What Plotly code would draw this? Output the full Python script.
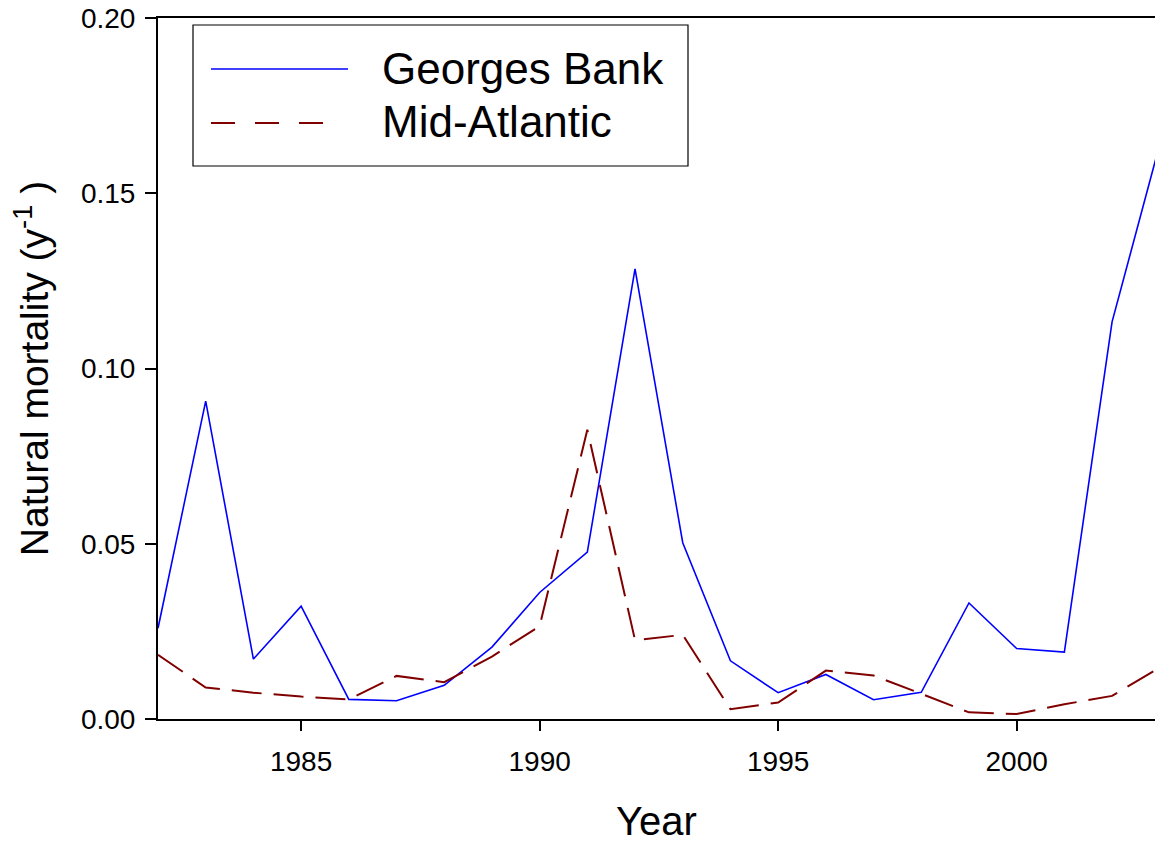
import plotly.graph_objects as go

# Annual natural mortality estimates by region
years = list(range(1982, 2004))
georges_bank = [0.0259, 0.0907, 0.0171, 0.0322, 0.0056, 0.0052, 0.0096, 0.0205,
                0.0361, 0.0476, 0.1284, 0.0503, 0.0166, 0.0075, 0.0127, 0.0055,
                0.0076, 0.0331, 0.0201, 0.0191, 0.1133, 0.1640]
mid_atlantic = [0.0183, 0.0090, 0.0075, 0.0064, 0.0056, 0.0123, 0.0105, 0.0178,
                0.0265, 0.0825, 0.0225, 0.0240, 0.0028, 0.0047, 0.0138, 0.0124,
                0.0072, 0.0019, 0.0014, 0.0042, 0.0066, 0.0147]

x_ticks = [1985, 1990, 1995, 2000]
y_ticks = [0.00, 0.05, 0.10, 0.15, 0.20]

FONT = "Liberation Sans, Arial, sans-serif"
GB_COLOR = "#0000ff"
MA_COLOR = "#800000"

fig = go.Figure()
fig.add_trace(go.Scatter(x=years, y=georges_bank, mode="lines", name="Georges Bank",
                         line=dict(color=GB_COLOR, width=1.6)))
fig.add_trace(go.Scatter(x=years, y=mid_atlantic, mode="lines", name="Mid-Atlantic",
                         line=dict(color=MA_COLOR, width=2, dash="30px,12px")))

W, H = 1155, 843
ML, MR, MT, MB = 158, 0, 18, 124
PW, PH = W - ML - MR, H - MT - MB


def fx(p):
    """Pixel column -> x paper fraction."""
    return (p - ML) / PW


def fy(p):
    """Pixel row -> y paper fraction."""
    return (H - MB - p) / PH


# Boxed legend drawn in the upper-left corner
shapes = [
    dict(type="rect", xref="paper", yref="paper",
         x0=fx(193), x1=fx(688), y0=fy(166), y1=fy(25),
         line=dict(color="black", width=1.2), fillcolor="white", layer="above"),
    dict(type="line", xref="paper", yref="paper",
         x0=fx(211), x1=fx(348), y0=fy(69), y1=fy(69),
         line=dict(color=GB_COLOR, width=1.6), layer="above"),
    dict(type="line", xref="paper", yref="paper",
         x0=fx(211), x1=fx(335), y0=fy(123), y1=fy(123),
         line=dict(color=MA_COLOR, width=2, dash="24px,20px"), layer="above"),
]

annotations = [
    dict(text="Georges Bank", xref="paper", yref="paper",
         x=fx(380), y=fy(68), xanchor="left", yanchor="middle", showarrow=False,
         font=dict(family=FONT, size=44, color="black")),
    dict(text="Mid-Atlantic", xref="paper", yref="paper",
         x=fx(380), y=fy(122), xanchor="left", yanchor="middle", showarrow=False,
         font=dict(family=FONT, size=44, color="black")),
]

fig.update_layout(
    width=W, height=H,
    margin=dict(l=ML, r=MR, t=MT, b=MB, pad=0),
    paper_bgcolor="white", plot_bgcolor="white",
    showlegend=False,
    font=dict(family=FONT, color="black"),
    shapes=shapes,
    annotations=annotations,
    xaxis=dict(
        range=[1982, 2002.9], tickvals=x_ticks, ticktext=[str(v) for v in x_ticks],
        ticks="outside", ticklen=10, tickwidth=1.5, tickcolor="black",
        showline=True, linecolor="black", linewidth=2, mirror=True,
        showgrid=False, zeroline=False, ticklabelstandoff=6,
        tickfont=dict(family=FONT, size=28, color="black"),
        title=dict(text="Year", font=dict(family=FONT, size=40, color="black"), standoff=34),
    ),
    yaxis=dict(
        range=[0, 0.2], tickvals=y_ticks, ticktext=[f"{v:.2f}" for v in y_ticks],
        ticks="outside", ticklen=11, tickwidth=1.5, tickcolor="black",
        showline=True, linecolor="black", linewidth=2, mirror=False,
        showgrid=False, zeroline=False, ticklabelstandoff=4,
        tickfont=dict(family=FONT, size=28, color="black"),
        title=dict(text="Natural mortality (y<sup>-1</sup> )",
                   font=dict(family=FONT, size=39, color="black"), standoff=20),
    ),
)

fig.write_html("out.html")
